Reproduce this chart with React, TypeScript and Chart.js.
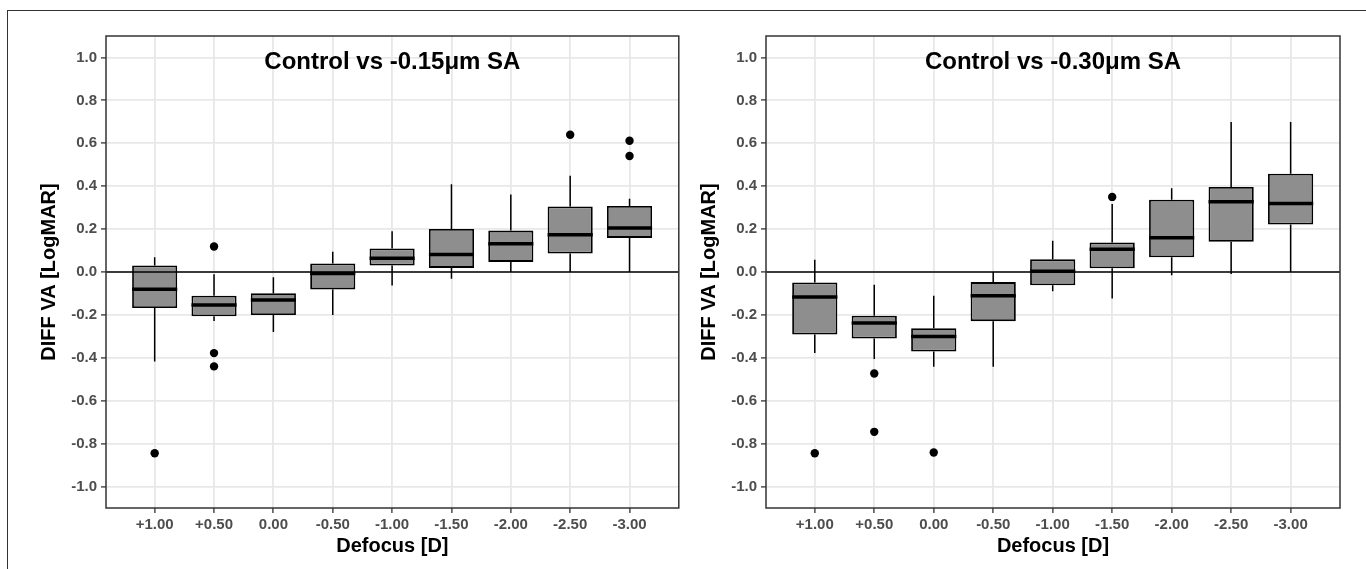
import React, { useEffect, useRef } from "react";
import { Chart, registerables } from "chart.js";

Chart.register(...registerables);

// ---------- data ----------
const categories = ["+1.00", "+0.50", "0.00", "-0.50", "-1.00", "-1.50", "-2.00", "-2.50", "-3.00"];
const yTickValues = [-1.0, -0.8, -0.6, -0.4, -0.2, 0.0, 0.2, 0.4, 0.6, 0.8, 1.0];

// Panel A: Control vs -0.15μm SA
const titleA = "Control vs -0.15μm SA";
const lowA = [-0.417, -0.228, -0.280, -0.201, -0.063, -0.031, 0.0, 0.0, 0.0];
const q1A = [-0.168, -0.206, -0.201, -0.081, 0.030, 0.019, 0.047, 0.086, 0.159];
const medA = [-0.080, -0.154, -0.131, -0.007, 0.064, 0.081, 0.132, 0.174, 0.205];
const q3A = [0.030, -0.111, -0.099, 0.040, 0.110, 0.201, 0.193, 0.305, 0.308];
const highA = [0.069, -0.010, -0.024, 0.094, 0.190, 0.409, 0.361, 0.449, 0.341];
const outlierCatA = [0, 1, 1, 1, 7, 8, 8];
const outlierValA = [-0.845, 0.119, -0.378, -0.440, 0.640, 0.612, 0.541];

// Panel B: Control vs -0.30μm SA
const titleB = "Control vs -0.30μm SA";
const lowB = [-0.378, -0.405, -0.442, -0.442, -0.090, -0.124, -0.015, -0.009, 0.0];
const q1B = [-0.291, -0.310, -0.371, -0.229, -0.062, 0.017, 0.069, 0.141, 0.221];
const medB = [-0.117, -0.238, -0.301, -0.111, 0.003, 0.106, 0.160, 0.328, 0.319];
const q3B = [-0.049, -0.204, -0.262, -0.047, 0.059, 0.138, 0.337, 0.396, 0.458];
const highB = [0.057, -0.060, -0.111, 0.0, 0.146, 0.317, 0.390, 0.699, 0.699];
const outlierCatB = [0, 1, 1, 2, 5];
const outlierValB = [-0.845, -0.473, -0.745, -0.841, 0.350];

const yAxisTitle = "DIFF VA [LogMAR]";
const xAxisTitle = "Defocus [D]";

const FONT = "'Liberation Sans', Arial, Helvetica, sans-serif";

const boxExtras = {
  id: "boxExtras",
  beforeDatasetsDraw(chart: any, _args: any, opts: any) {
    const { ctx } = chart;
    const x = chart.scales.x;
    const y = chart.scales.y;
    ctx.save();
    ctx.strokeStyle = "#000";
    ctx.lineWidth = 1.5;
    opts.low.forEach((lo: number, i: number) => {
      const px = x.getPixelForValue(i);
      ctx.beginPath();
      ctx.moveTo(px, y.getPixelForValue(opts.high[i]));
      ctx.lineTo(px, y.getPixelForValue(opts.q3[i]));
      ctx.moveTo(px, y.getPixelForValue(opts.q1[i]));
      ctx.lineTo(px, y.getPixelForValue(lo));
      ctx.stroke();
    });
    ctx.restore();
  },
  afterDatasetsDraw(chart: any, _args: any, opts: any) {
    const { ctx, chartArea } = chart;
    const y = chart.scales.y;
    const meta = chart.getDatasetMeta(0);
    ctx.save();
    // medians
    ctx.strokeStyle = "#000";
    ctx.lineWidth = 3.5;
    meta.data.forEach((bar: any, i: number) => {
      const p = bar.getProps(["x", "width"], true);
      const py = y.getPixelForValue(opts.med[i]);
      ctx.beginPath();
      ctx.moveTo(p.x - p.width / 2, py);
      ctx.lineTo(p.x + p.width / 2, py);
      ctx.stroke();
    });
    // zero reference line
    ctx.lineWidth = 1.4;
    const y0 = y.getPixelForValue(0);
    ctx.beginPath();
    ctx.moveTo(chartArea.left, y0);
    ctx.lineTo(chartArea.right, y0);
    ctx.stroke();
    // panel border
    ctx.strokeStyle = "#333";
    ctx.lineWidth = 1.5;
    ctx.strokeRect(chartArea.left, chartArea.top, chartArea.right - chartArea.left, chartArea.bottom - chartArea.top);
    // panel title
    ctx.fillStyle = "#000";
    ctx.font = `bold 24px ${FONT}`;
    ctx.textAlign = "center";
    ctx.textBaseline = "alphabetic";
    ctx.fillText(opts.title, (chartArea.left + chartArea.right) / 2, chartArea.top + 32.5);
    ctx.restore();
  },
};

type PanelProps = {
  title: string;
  low: number[];
  q1: number[];
  med: number[];
  q3: number[];
  high: number[];
  outCat: number[];
  outVal: number[];
  yAxisWidth: number;
  padRight: number;
  yTitlePad: number;
};

function Panel(props: PanelProps) {
  const ref = useRef<HTMLCanvasElement | null>(null);
  useEffect(() => {
    if (!ref.current) return;
    const { title, low, q1, med, q3, high, outCat, outVal, yAxisWidth, padRight, yTitlePad } = props;
    const chart = new Chart(ref.current, {
      type: "bar",
      data: {
        datasets: [
          {
            type: "bar",
            data: q1.map((v, i) => ({ x: i, y: [v, q3[i]] })) as any,
            backgroundColor: "#8e8e8e",
            borderColor: "#000",
            borderWidth: 1.8,
            borderSkipped: false,
            barPercentage: 0.76,
            categoryPercentage: 1.0,
          } as any,
          {
            type: "scatter",
            data: outCat.map((c, j) => ({ x: c, y: outVal[j] })),
            pointRadius: 4.2,
            pointBackgroundColor: "#000",
            pointBorderWidth: 0,
            borderColor: "#000",
          } as any,
        ],
      },
      options: {
        responsive: false,
        animation: false,
        devicePixelRatio: 1,
        layout: { padding: { top: 36, right: padRight, bottom: 0, left: 0 } },
        plugins: {
          legend: { display: false },
          tooltip: { enabled: false },
          boxExtras: { title, low, q1, med, q3, high },
        } as any,
        scales: {
          x: {
            type: "linear",
            min: -0.82,
            max: 8.83,
            offset: false,
            grid: { offset: false, color: "#e8e8e8", lineWidth: 1.8, tickColor: "#333", tickWidth: 1.3, tickLength: 5 },
            border: { display: false },
            afterBuildTicks: (scale: any) => {
              scale.ticks = categories.map((_, i) => ({ value: i }));
            },
            afterFit: (scale: any) => {
              scale.height = 61;
            },
            ticks: {
              autoSkip: false,
              maxRotation: 0,
              padding: 3,
              color: "#4d4d4d",
              font: { family: FONT, size: 15, weight: "bold" },
              callback: (v: any) => categories[Math.round(Number(v))] ?? "",
            },
            title: {
              display: true,
              text: xAxisTitle,
              color: "#000",
              font: { family: FONT, size: 20, weight: "bold" },
              padding: { top: 0, bottom: 11 },
            },
          } as any,
          y: {
            type: "linear",
            min: -1.1,
            max: 1.1,
            grid: { color: "#e8e8e8", lineWidth: 1.8, tickColor: "#333", tickWidth: 1.3, tickLength: 5 },
            border: { display: false },
            afterBuildTicks: (scale: any) => {
              scale.ticks = yTickValues.map((v) => ({ value: v }));
            },
            afterFit: (scale: any) => {
              scale.width = yAxisWidth;
            },
            ticks: {
              padding: 4,
              color: "#4d4d4d",
              font: { family: FONT, size: 15, weight: "bold" },
              callback: (v: any) => Number(v).toFixed(1),
            },
            title: {
              display: true,
              text: yAxisTitle,
              color: "#000",
              font: { family: FONT, size: 20, weight: "bold" },
              padding: { top: yTitlePad, bottom: 0 },
            },
          } as any,
        },
      } as any,
      plugins: [boxExtras],
    });
    return () => chart.destroy();
  }, []);
  return <canvas ref={ref} width={683} height={569} style={{ display: "block", width: 683, height: 569 }} />;
}

export default function App() {
  return (
    <div style={{ position: "absolute", left: 0, top: 0, width: 1366, height: 569, overflow: "hidden", background: "#fff" }}>
      <div style={{ position: "absolute", left: 0, top: 0, display: "flex" }}>
        <Panel
          title={titleA}
          low={lowA}
          q1={q1A}
          med={medA}
          q3={q3A}
          high={highA}
          outCat={outlierCatA}
          outVal={outlierValA}
          yAxisWidth={106}
          padRight={2}
          yTitlePad={37}
        />
        <Panel
          title={titleB}
          low={lowB}
          q1={q1B}
          med={medB}
          q3={q3B}
          high={highB}
          outCat={outlierCatB}
          outVal={outlierValB}
          yAxisWidth={83}
          padRight={26}
          yTitlePad={14}
        />
      </div>
      <div
        style={{
          position: "absolute",
          left: 7,
          top: 10,
          width: 1370,
          height: 570,
          borderTop: "1px solid #333",
          borderLeft: "1px solid #333",
          pointerEvents: "none",
        }}
      />
    </div>
  );
}
